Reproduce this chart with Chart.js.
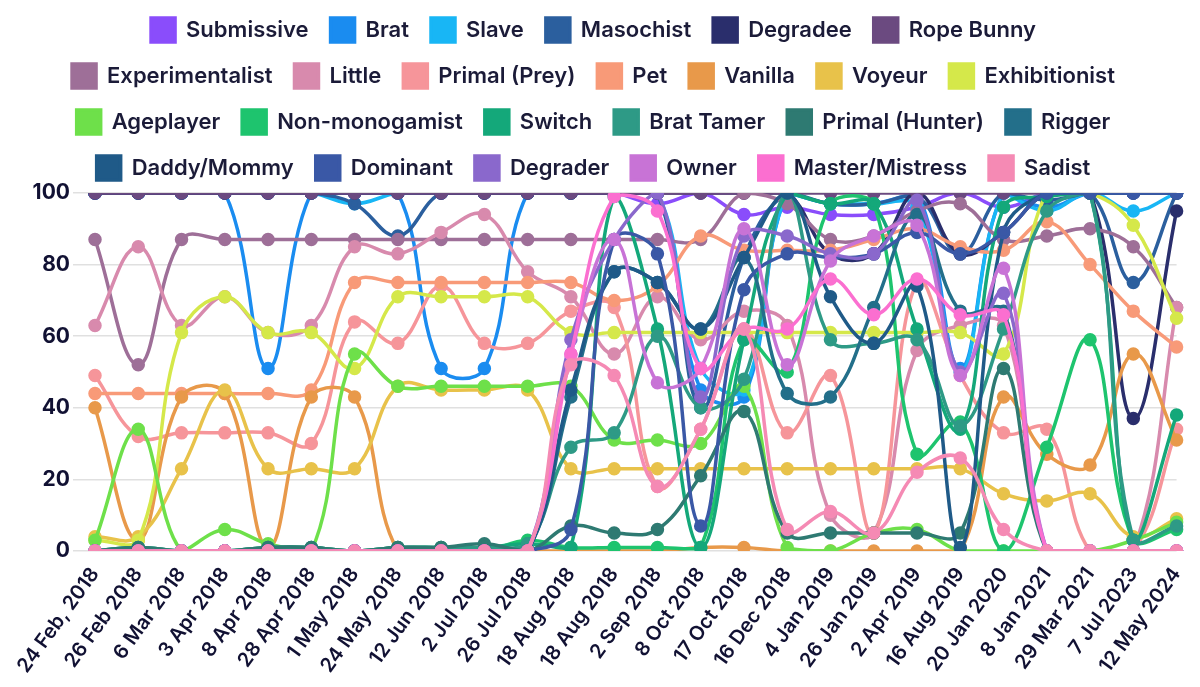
<!DOCTYPE html>
<html>
<head>
<meta charset="utf-8">
<script src="https://cdn.jsdelivr.net/npm/chart.js@4/dist/chart.umd.min.js"></script>
<style>
  html, body { margin: 0; padding: 0; background: #fff; }
  #wrap { width: 1200px; height: 687px; }
</style>
</head>
<body>
<div id="wrap"><canvas id="chart"></canvas></div>
<script>
const labels = ['24 Feb, 2018', '26 Feb 2018', '6 Mar 2018', '3 Apr 2018', '8 Apr 2018', '28 Apr 2018',
  '1 May 2018', '24 May 2018', '12 Jun 2018', '2 Jul 2018', '26 Jul 2018', '18 Aug 2018', '18 Aug 2018',
  '2 Sep 2018', '8 Oct 2018', '17 Oct 2018', '16 Dec 2018', '4 Jan 2019', '26 Jan 2019', '2 Apr 2019',
  '16 Aug 2019', '20 Jan 2020', '8 Jan 2021', '29 Mar 2021', '7 Jul 2023', '12 May 2024'];

// one array per role, in legend order
const submissive     = [100,100,100,100,100,100,100,100,100,100,100,100,100,97,100,94,96,94,94,96,100,96,100,100,100,100];
const brat           = [100,100,100,100,51,100,100,100,51,51,100,100,100,100,45,43,100,97,97,100,51,100,96,100,100,100];
const slave          = [100,100,100,100,100,100,97,100,100,100,100,100,100,100,51,45,100,97,97,96,50,100,95,100,95,100];
const masochist      = [100,100,100,100,100,100,97,88,100,100,100,100,100,100,40,82,100,97,97,99,83,100,98,100,75,100];
const degradee       = [100,100,100,100,100,100,100,100,100,100,100,100,100,100,100,100,100,83,83,100,83,89,100,100,37,95];
const ropeBunny      = [100,100,100,100,100,100,100,100,100,100,100,100,100,100,100,100,100,100,100,100,100,100,100,100,100,100];
const experimentalist= [87,52,87,87,87,87,87,87,87,87,87,87,87,87,87,100,97,87,88,95,97,87,88,90,85,68];
const little         = [63,85,63,71,61,63,85,83,89,94,78,71,55,71,59,67,63,10,5,56,63,63,0,0,0,68];
const primalPrey     = [49,32,33,33,33,30,64,58,74,58,58,67,68,18,34,62,33,49,5,75,49,33,34,0,0,34];
const pet            = [44,44,44,44,44,45,75,75,75,75,75,75,70,74,88,84,84,84,87,90,85,84,92,80,67,57];
const vanilla        = [40,3,43,44,1,43,43,0,0,0,0,0,0,0,1,1,0,0,0,0,0,43,27,24,55,31];
const voyeur         = [4,4,23,45,23,23,23,46,45,45,45,23,23,23,23,23,23,23,23,23,23,16,14,16,4,9];
const exhibitionist  = [3,3,61,71,61,61,51,71,71,71,71,61,61,61,61,61,61,61,61,61,61,55,100,100,91,65];
const ageplayer      = [3,34,0,6,2,0,55,46,46,46,46,46,31,31,30,46,1,0,5,6,0,0,0,0,3,8];
const nonMonogamist  = [0,0,0,0,0,0,0,0,0,0,3,1,1,1,1,59,50,97,97,27,36,0,29,59,3,6];
const switchRole     = [0,1,0,0,1,1,0,1,1,1,2,1,99,62,1,59,100,97,97,62,34,96,99,100,3,38];
const bratTamer      = [0,1,0,0,1,1,0,1,1,1,2,29,33,60,40,48,100,59,58,59,35,62,95,100,3,7];
const primalHunter   = [0,1,0,0,1,1,0,1,1,2,0,7,5,6,21,39,5,5,5,5,5,51,0,0,0,0];
const rigger         = [0,0,0,0,0,0,0,0,0,0,0,43,78,75,62,82,44,43,68,94,67,67,0,0,0,0];
const daddyMommy     = [0,0,0,0,0,0,0,0,0,0,0,45,78,75,62,82,100,71,58,74,1,89,100,100,100,100];
const dominant       = [0,0,0,0,0,0,0,0,0,0,0,6,87,83,7,73,83,82,83,89,83,89,100,100,100,100];
const degrader       = [0,0,0,0,0,0,0,0,0,0,0,59,87,100,43,88,88,83,83,98,50,72,0,0,0,0];
const owner          = [0,0,0,0,0,0,0,0,0,0,0,55,87,47,51,90,52,81,88,91,49,79,0,0,0,0];
const masterMistress = [0,0,0,0,0,0,0,0,0,0,0,55,99,95,51,62,62,76,66,76,66,66,0,0,0,0];
const sadist         = [0,0,0,0,0,0,0,0,0,0,0,52,49,18,34,62,6,11,5,22,26,6,0,0,0,0];

const names = ['Submissive', 'Brat', 'Slave', 'Masochist', 'Degradee', 'Rope Bunny', 'Experimentalist', 'Little',
  'Primal (Prey)', 'Pet', 'Vanilla', 'Voyeur', 'Exhibitionist', 'Ageplayer', 'Non-monogamist', 'Switch',
  'Brat Tamer', 'Primal (Hunter)', 'Rigger', 'Daddy/Mommy', 'Dominant', 'Degrader', 'Owner', 'Master/Mistress', 'Sadist'];
const series = [submissive, brat, slave, masochist, degradee, ropeBunny, experimentalist, little, primalPrey, pet,
  vanilla, voyeur, exhibitionist, ageplayer, nonMonogamist, switchRole, bratTamer, primalHunter, rigger,
  daddyMommy, dominant, degrader, owner, masterMistress, sadist];
const colors = ['#8a4dfb', '#1a8cf0', '#18b6f5', '#2b5f9e', '#2a2e6c', '#6b4a80', '#9e6f98', '#d88aad',
  '#f6959a', '#f89a78', '#e8994a', '#e8c24a', '#d5e84a', '#6ee04a', '#1ec46e', '#14a87a',
  '#2e9a86', '#2e7a72', '#236f8a', '#1f5a88', '#3a58a6', '#8a68cc', '#c873d6', '#fb6fd0', '#f58ab4'];

// the legend wraps its rows narrower than the canvas, and sits a bit higher above the plot
const LegendBox = Chart.registry.getPlugin('legend')._element;
const fitRows = LegendBox.prototype._fitRows;
LegendBox.prototype._fitRows = function (...args) {
  const full = this.maxWidth;
  this.maxWidth = 1110;
  const h = fitRows.apply(this, args);
  this.maxWidth = full;
  return h + 3;
};

const datasets = series.map((values, i) => ({
  label: names[i],
  data: values,
  borderColor: colors[i],
  backgroundColor: colors[i],
  borderWidth: 3.5,
  pointRadius: 5,
  pointHoverRadius: 5,
  tension: 0.4,
  order: series.length - i
}));

const ctx = document.getElementById('chart').getContext('2d');
new Chart(ctx, {
  type: 'line',
  data: { labels: labels, datasets: datasets },
  options: {
    responsive: true,
    maintainAspectRatio: false,
    animation: false,
    layout: { padding: { left: 0, right: 13, top: -4, bottom: 0 } },
    plugins: {
      legend: {
        position: 'top',
        labels: {
          sort: (a, b) => a.datasetIndex - b.datasetIndex,
          boxWidth: 24,
          boxHeight: 24,
          padding: 22,
          color: '#1b1b38',
          font: { family: 'Inter', size: 22, weight: '600' }
        }
      },
      tooltip: { enabled: false }
    },
    scales: {
      x: {
        grid: { display: false },
        border: { display: false },
        afterFit: (axis) => { axis.height = 136; },
        ticks: {
          color: '#111133',
          maxRotation: 54,
          minRotation: 54,
          autoSkip: false,
          padding: 4,
          font: { family: 'Inter', size: 20, weight: '600' }
        }
      },
      y: {
        min: 0,
        max: 100,
        border: { display: false },
        afterFit: (axis) => { axis.width = 95; },
        grid: { color: '#e0e0e0', lineWidth: 1.5, tickLength: 22 },
        ticks: {
          stepSize: 20,
          color: '#111133',
          padding: 3,
          font: { family: 'Inter', size: 21, weight: '700' }
        }
      }
    }
  }
});
</script>
</body>
</html>
